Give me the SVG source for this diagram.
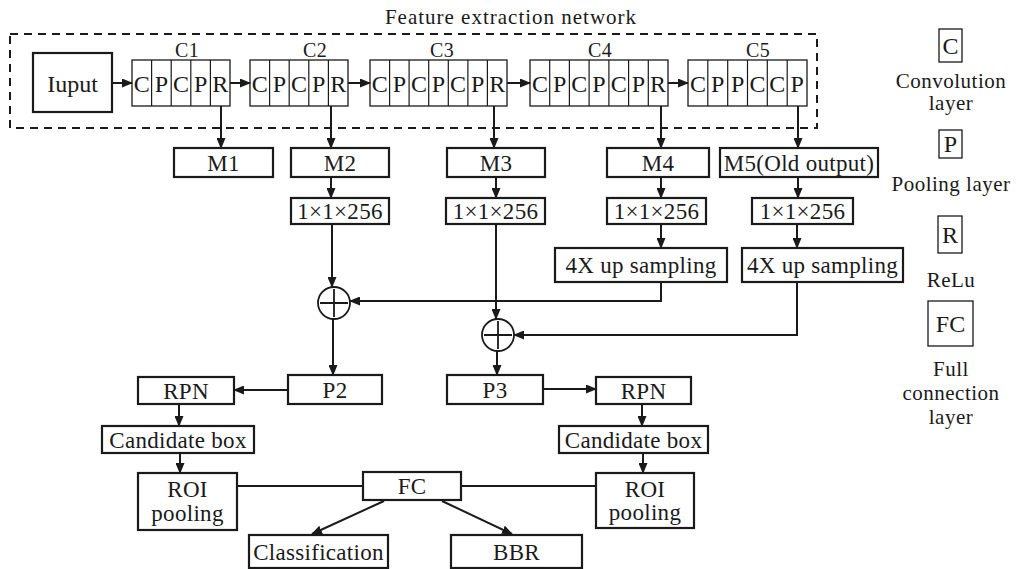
<svg xmlns="http://www.w3.org/2000/svg" width="1017" height="569" viewBox="0 0 1017 569">
<defs>
<marker id="ah" markerUnits="userSpaceOnUse" markerWidth="11" markerHeight="9" refX="10" refY="4.5" orient="auto">
<path d="M0,0 L11,4.5 L0,9 z" fill="#1a1a1a"/>
</marker>
</defs>
<style>
text{font-family:"Liberation Serif","Times New Roman",serif;fill:#1a1a1a;text-anchor:middle;font-size:23px;letter-spacing:0.3px}
.box{fill:#fff;stroke:#1a1a1a;stroke-width:2.2}
.blk{fill:#fff;stroke:#1a1a1a;stroke-width:1.3}
.cell{stroke:#1a1a1a;stroke-width:1.2}
.cl{font-size:24px;letter-spacing:0}
.lg{fill:#fff;stroke:#1a1a1a;stroke-width:1.3}
.lt{font-size:21px;letter-spacing:0.5px}
.cn line,.cn polyline,.cn path{fill:none;stroke:#1a1a1a;stroke-width:2}
.arr{marker-end:url(#ah)}
.dash{fill:none;stroke:#1a1a1a;stroke-width:2;stroke-dasharray:8 6}
</style>
<rect width="1017" height="569" fill="#fff"/>

<g id="feature-network">
<text x="511" y="24" style="font-size:21px;letter-spacing:1px">Feature extraction network</text>
<rect class="dash" x="10" y="34" width="807" height="94"/>
</g>

<g id="input">
<rect class="box" x="33" y="53" width="79" height="59"/>
<text class="cl" x="72.5" y="92">Iuput</text>
</g>

<g id="C1">
<text x="187" y="57" style="font-size:20px">C1</text>
<rect class="blk" x="132" y="60" width="98" height="46"/>
<path class="cell" d="M151.6,60V106M171.2,60V106M190.8,60V106M210.4,60V106"/>
<text class="cl" y="92"><tspan x="141.8">C</tspan><tspan x="161.4">P</tspan><tspan x="181">C</tspan><tspan x="200.6">P</tspan><tspan x="220.2">R</tspan></text>
</g>

<g id="C2">
<text x="315" y="57" style="font-size:20px">C2</text>
<rect class="blk" x="250" y="60" width="98" height="46"/>
<path class="cell" d="M269.6,60V106M289.2,60V106M308.8,60V106M328.4,60V106"/>
<text class="cl" y="92"><tspan x="259.8">C</tspan><tspan x="279.4">P</tspan><tspan x="299">C</tspan><tspan x="318.6">P</tspan><tspan x="338.2">R</tspan></text>
</g>

<g id="C3">
<text x="442" y="57" style="font-size:20px">C3</text>
<rect class="blk" x="370" y="60" width="137" height="46"/>
<path class="cell" d="M389.6,60V106M409.1,60V106M428.7,60V106M448.3,60V106M467.9,60V106M487.4,60V106"/>
<text class="cl" y="92"><tspan x="379.8">C</tspan><tspan x="399.4">P</tspan><tspan x="418.9">C</tspan><tspan x="438.5">P</tspan><tspan x="458.1">C</tspan><tspan x="477.6">P</tspan><tspan x="497.2">R</tspan></text>
</g>

<g id="C4">
<text x="600" y="57" style="font-size:20px">C4</text>
<rect class="blk" x="530" y="60" width="138" height="46"/>
<path class="cell" d="M549.7,60V106M569.4,60V106M589.1,60V106M608.9,60V106M628.6,60V106M648.3,60V106"/>
<text class="cl" y="92"><tspan x="539.9">C</tspan><tspan x="559.6">P</tspan><tspan x="579.3">C</tspan><tspan x="599">P</tspan><tspan x="618.7">C</tspan><tspan x="638.4">P</tspan><tspan x="658.1">R</tspan></text>
</g>

<g id="C5">
<text x="758" y="57" style="font-size:20px">C5</text>
<rect class="blk" x="688" y="60" width="119" height="46"/>
<path class="cell" d="M707.8,60V106M727.7,60V106M747.5,60V106M767.3,60V106M787.2,60V106"/>
<text class="cl" y="92"><tspan x="697.9">C</tspan><tspan x="717.8">P</tspan><tspan x="737.6">P</tspan><tspan x="757.4">C</tspan><tspan x="777.3">C</tspan><tspan x="797.1">P</tspan></text>
</g>

<g id="M1"><rect class="box" x="174" y="148" width="99" height="29"/><text x="223.5" y="170.5">M1</text></g>
<g id="M2"><rect class="box" x="291" y="148" width="98" height="29"/><text x="340" y="170.5">M2</text></g>
<g id="M3"><rect class="box" x="447" y="148" width="98" height="29"/><text x="496" y="170.5">M3</text></g>
<g id="M4"><rect class="box" x="607" y="148" width="102" height="29"/><text x="658" y="170.5">M4</text></g>
<g id="M5"><rect class="box" x="720" y="148" width="158" height="29"/><text x="799" y="170.5">M5(Old output)</text></g>

<g id="conv2"><rect class="box" x="291" y="198" width="98" height="26"/><text x="340" y="219">1×1×256</text></g>
<g id="conv3"><rect class="box" x="446" y="198" width="99" height="26"/><text x="495.5" y="219">1×1×256</text></g>
<g id="conv4"><rect class="box" x="607" y="198" width="99" height="26"/><text x="656.5" y="219">1×1×256</text></g>
<g id="conv5"><rect class="box" x="752" y="198" width="101" height="26"/><text x="802.5" y="219">1×1×256</text></g>

<g id="up4"><rect class="box" x="555" y="248" width="172" height="34"/><text x="641" y="273">4X up sampling</text></g>
<g id="up5"><rect class="box" x="742" y="248" width="161" height="34"/><text x="822.5" y="273">4X up sampling</text></g>

<g id="add1"><circle cx="334" cy="303" r="16" fill="#fff" stroke="#1a1a1a" stroke-width="1.8"/><path d="M320,303H348M334,289V317" stroke="#1a1a1a" stroke-width="1.8"/></g>
<g id="add2"><circle cx="498" cy="335" r="16" fill="#fff" stroke="#1a1a1a" stroke-width="1.8"/><path d="M484,335H512M498,321V349" stroke="#1a1a1a" stroke-width="1.8"/></g>

<g id="P2"><rect class="box" x="288" y="375" width="94" height="29"/><text x="335" y="397.5">P2</text></g>
<g id="P3"><rect class="box" x="447" y="375" width="96" height="29"/><text x="495" y="397.5">P3</text></g>
<g id="RPN-left"><rect class="box" x="138" y="377" width="96" height="27"/><text x="186" y="398.5">RPN</text></g>
<g id="RPN-right"><rect class="box" x="596" y="377" width="95" height="27"/><text x="643.5" y="398.5">RPN</text></g>

<g id="cand-left"><rect class="box" x="102" y="426" width="152" height="27"/><text x="178" y="447.5">Candidate box</text></g>
<g id="cand-right"><rect class="box" x="559" y="426" width="149" height="27"/><text x="633.5" y="447.5">Candidate box</text></g>

<g id="roi-left"><rect class="box" x="138" y="473" width="99" height="57"/><text x="187.5" y="497">ROI</text><text x="187.5" y="521">pooling</text></g>
<g id="roi-right"><rect class="box" x="596" y="473" width="98" height="55"/><text x="645" y="497">ROI</text><text x="645" y="520">pooling</text></g>

<g id="FC"><rect class="box" x="363" y="472" width="98" height="28"/><text x="412" y="494">FC</text></g>
<g id="classification"><rect class="box" x="249" y="535" width="139" height="33"/><text x="318.5" y="559.5">Classification</text></g>
<g id="BBR"><rect class="box" x="451" y="535" width="131" height="33"/><text x="516.5" y="559.5">BBR</text></g>

<g id="legend">
<rect class="lg" x="939" y="29" width="23" height="33"/><text class="cl" x="950.5" y="54">C</text>
<text class="lt" x="951" y="88">Convolution</text>
<text class="lt" x="951" y="110">layer</text>
<rect class="lg" x="939" y="130" width="23" height="28"/><text class="cl" x="950.5" y="152">P</text>
<text class="lt" x="951" y="191">Pooling layer</text>
<rect class="lg" x="938" y="216" width="24" height="37"/><text class="cl" x="950" y="243">R</text>
<text class="lt" x="951" y="287">ReLu</text>
<rect class="lg" x="928" y="301" width="45" height="45"/><text class="cl" x="950.5" y="332">FC</text>
<text class="lt" x="951" y="376">Full</text>
<text class="lt" x="951" y="400">connection</text>
<text class="lt" x="951" y="424">layer</text>
</g>

<g id="connectors" class="cn">
<line class="arr" x1="112" y1="83" x2="132" y2="83"/>
<line class="arr" x1="230" y1="83" x2="250" y2="83"/>
<line class="arr" x1="348" y1="83" x2="370" y2="83"/>
<line class="arr" x1="507" y1="83" x2="530" y2="83"/>
<line class="arr" x1="668" y1="83" x2="688" y2="83"/>
<line class="arr" x1="221" y1="106" x2="221" y2="148"/>
<line class="arr" x1="331" y1="106" x2="331" y2="148"/>
<line class="arr" x1="494" y1="106" x2="494" y2="148"/>
<line class="arr" x1="661" y1="106" x2="661" y2="148"/>
<line class="arr" x1="798" y1="106" x2="798" y2="148"/>
<line class="arr" x1="331" y1="177" x2="331" y2="198"/>
<line class="arr" x1="496" y1="177" x2="496" y2="198"/>
<line class="arr" x1="661" y1="177" x2="661" y2="198"/>
<line class="arr" x1="798" y1="177" x2="798" y2="198"/>
<line class="arr" x1="661" y1="224" x2="661" y2="248"/>
<line class="arr" x1="797" y1="224" x2="797" y2="248"/>
<line class="arr" x1="332" y1="224" x2="332" y2="287"/>
<line class="arr" x1="496" y1="224" x2="496" y2="319"/>
<polyline class="arr" points="661,282 661,301 350,301"/>
<polyline class="arr" points="797,282 797,335 514,335"/>
<line class="arr" x1="333" y1="319" x2="333" y2="375"/>
<line class="arr" x1="497" y1="351" x2="497" y2="375"/>
<line class="arr" x1="288" y1="390" x2="234" y2="390"/>
<line class="arr" x1="543" y1="389" x2="596" y2="389"/>
<line class="arr" x1="179" y1="404" x2="179" y2="426"/>
<line class="arr" x1="180" y1="453" x2="180" y2="473"/>
<line class="arr" x1="642" y1="404" x2="642" y2="426"/>
<line class="arr" x1="643" y1="453" x2="643" y2="473"/>
<line x1="237" y1="486" x2="363" y2="486"/>
<line x1="461" y1="486" x2="596" y2="486"/>
<line class="arr" x1="384" y1="501" x2="312" y2="534"/>
<line class="arr" x1="442" y1="501" x2="512" y2="534"/>
</g>
</svg>
